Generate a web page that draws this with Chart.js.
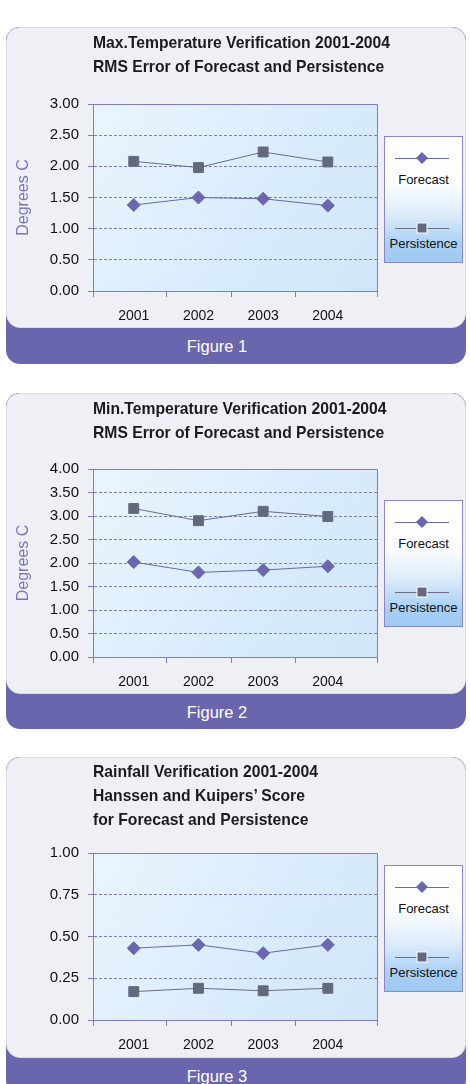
<!DOCTYPE html>
<html>
<head>
<meta charset="utf-8">
<script src="https://cdn.jsdelivr.net/npm/chart.js@4.4.1/dist/chart.umd.min.js"></script>
<style>
  body { margin: 0; background: #fff; font-family: "Liberation Sans", Arial, sans-serif; }
  .panel { position: absolute; left: 6px; width: 460px; background: #6a66ad; border-radius: 14px; overflow: hidden; }
  .inner { position: absolute; left: 0; top: 0; width: 458px; height: 299px; background: #efeff6; border: 1px solid #dcdce9; border-radius: 14px; }
  .panel canvas { position: absolute; left: 0; top: 0; }
  .title { position: absolute; left: 87px; top: 4px; font-weight: bold; font-size: 15.7px; line-height: 24px; color: #1b1b1b; white-space: nowrap; }
  .fig { position: absolute; left: 0; top: 300px; width: 422px; text-align: center; color: #fff; font-size: 16.5px; line-height: 38px; }
  .legend { position: absolute; left: 378px; width: 77px; height: 125px; border: 1px solid #8a87c6;
    background: linear-gradient(#ffffff 0%, #fbfdff 38%, #dcecfb 62%, #a9d0f5 85%, #9cc9f3 100%); }
  .legend .mk { position: absolute; left: 10px; }
  .legend .lb { position: absolute; left: 0; width: 77px; text-align: center; font-size: 13px; line-height: 16px; color: #111; }
</style>
</head>
<body>

<div class="panel" style="top:27px;height:337px">
  <div class="inner"></div>
  <canvas id="chart1" width="460" height="300"></canvas>
  <div class="title">Max.Temperature Verification 2001-2004<br>RMS Error of Forecast and Persistence</div>
  <div class="legend" id="legend1" style="top:109px"></div>
  <div class="fig">Figure 1</div>
</div>

<div class="panel" style="top:393px;height:336px">
  <div class="inner"></div>
  <canvas id="chart2" width="460" height="300"></canvas>
  <div class="title">Min.Temperature Verification 2001-2004<br>RMS Error of Forecast and Persistence</div>
  <div class="legend" id="legend2" style="top:107px"></div>
  <div class="fig">Figure 2</div>
</div>

<div class="panel" style="top:757px;height:337px">
  <div class="inner"></div>
  <canvas id="chart3" width="460" height="300"></canvas>
  <div class="title" style="top:3px">Rainfall Verification 2001-2004<br>Hanssen and Kuipers’ Score<br>for Forecast and Persistence</div>
  <div class="legend" id="legend3" style="top:108px"></div>
  <div class="fig">Figure 3</div>
</div>

<script>
// data
const years = [2001, 2002, 2003, 2004];
const seriesNames = ["Forecast", "Persistence"];

const maxTempForecast = [1.38, 1.50, 1.48, 1.37];
const maxTempPersistence = [2.08, 1.98, 2.23, 2.07];

const minTempForecast = [2.02, 1.80, 1.85, 1.93];
const minTempPersistence = [3.16, 2.90, 3.10, 2.99];

const rainForecast = [0.43, 0.45, 0.40, 0.45];
const rainPersistence = [0.17, 0.19, 0.175, 0.19];

const tempTicksMax = [0, 0.5, 1, 1.5, 2, 2.5, 3];
const tempTicksMin = [0, 0.5, 1, 1.5, 2, 2.5, 3, 3.5, 4];
const rainTicks = [0, 0.25, 0.5, 0.75, 1];

const axisColor = "#7f7cc0";
const forecastColor = "#6a66b0";
const persistColor = "#62697f";

// plot background, frame and the x tick marks between years
const plotFrame = {
  id: "plotFrame",
  beforeDraw(chart) {
    const { ctx, chartArea: a } = chart;
    const g = ctx.createLinearGradient(a.left, a.top, a.right, a.bottom);
    g.addColorStop(0, "#eaf5fe");
    g.addColorStop(0.5, "#dbedfc");
    g.addColorStop(1, "#d0e6f9");
    ctx.save();
    ctx.fillStyle = g;
    ctx.fillRect(a.left, a.top, a.right - a.left, a.bottom - a.top);
    ctx.restore();
  },
  afterDraw(chart) {
    const { ctx, chartArea: a } = chart;
    const x = chart.scales.x;
    ctx.save();
    ctx.strokeStyle = axisColor;
    ctx.lineWidth = 1;
    ctx.beginPath();
    ctx.moveTo(Math.round(a.left) + 0.5, Math.round(a.top) + 0.5);
    ctx.lineTo(Math.round(a.right) + 0.5, Math.round(a.top) + 0.5);
    ctx.lineTo(Math.round(a.right) + 0.5, Math.round(a.bottom) + 0.5);
    const marks = [a.left, a.right];
    years.slice(0, -1).forEach((y) => marks.push(x.getPixelForValue(y + 0.5)));
    marks.forEach((px) => {
      const p = Math.round(px) + 0.5;
      ctx.moveTo(p, Math.round(a.bottom));
      ctx.lineTo(p, Math.round(a.bottom) + 6);
    });
    ctx.stroke();
    ctx.restore();
  },
};

function buildLegend(el, datasets) {
  datasets.forEach((ds, i) => {
    const cy = i === 0 ? 21 : 91;
    const ty = i === 0 ? 35 : 99;
    let shape;
    if (ds.pointStyle === "rectRot") {
      shape = `<polygon points="27,1 33,7 27,13 21,7" fill="${ds.pointBackgroundColor}"/>`;
    } else {
      shape = `<rect x="22" y="2" width="10" height="10" fill="${ds.pointBackgroundColor}" stroke="#fff" stroke-width="1"/>`;
    }
    el.innerHTML +=
      `<svg class="mk" style="top:${cy - 7}px" width="54" height="14">` +
      `<line x1="0" y1="7.5" x2="54" y2="7.5" stroke="${ds.borderColor}" stroke-width="1"/>${shape}</svg>` +
      `<div class="lb" style="top:${ty}px">${ds.label}</div>`;
  });
}

function makeChart(id, legendId, forecast, persistence, yTicks, padTop, yTitle) {
  const datasets = [
    {
      label: seriesNames[0],
      data: years.map((y, i) => ({ x: y, y: forecast[i] })),
      borderColor: forecastColor,
      borderWidth: 1,
      pointStyle: "rectRot",
      pointRadius: 6.5,
      pointBackgroundColor: forecastColor,
      pointBorderColor: forecastColor,
    },
    {
      label: seriesNames[1],
      data: years.map((y, i) => ({ x: y, y: persistence[i] })),
      borderColor: "#6a6e82",
      borderWidth: 1,
      pointStyle: "rect",
      pointRadius: 7,
      pointBackgroundColor: persistColor,
      pointBorderColor: persistColor,
    },
  ];
  const yMax = yTicks[yTicks.length - 1];

  new Chart(document.getElementById(id), {
    type: "line",
    data: { datasets },
    options: {
      responsive: false,
      animation: false,
      layout: { padding: { left: 0, top: padTop, right: 89, bottom: 300 - 264 - 30 + (padTop > 80 ? 1 : 0) } },
      plugins: { legend: { display: false }, tooltip: { enabled: false } },
      scales: {
        x: {
          type: "linear",
          min: 2000.37,
          max: 2004.76,
          afterBuildTicks: (s) => { s.ticks = years.map((v) => ({ value: v })); },
          afterFit: (s) => { s.height = 30; },
          ticks: {
            callback: (v) => String(v),
            color: "#111",
            font: { family: "Liberation Sans", size: 14 },
            padding: 9,
            maxRotation: 0,
          },
          grid: { display: false },
          border: { display: true, color: axisColor, width: 1 },
        },
        y: {
          min: 0,
          max: yMax,
          afterBuildTicks: (s) => { s.ticks = yTicks.map((v) => ({ value: v })); },
          afterFit: (s) => { s.width = 87; },
          ticks: {
            callback: (v) => Number(v).toFixed(2),
            color: "#111",
            font: { family: "Liberation Sans", size: 15 },
            padding: 9,
          },
          grid: {
            color: (c) => (c.tick && c.tick.value > 0 && c.tick.value < yMax ? axisColor : "rgba(0,0,0,0)"),
            tickColor: axisColor,
            tickLength: 5,
            lineWidth: 1,
          },
          border: { display: true, color: axisColor, width: 1, dash: [3, 2] },
          title: {
            display: !!yTitle,
            text: yTitle || "",
            color: "#7a76bd",
            font: { family: "Liberation Sans", size: 16 },
            padding: { top: 8, bottom: 0 },
          },
        },
      },
    },
    plugins: [plotFrame],
  });

  buildLegend(document.getElementById(legendId), datasets);
}

makeChart("chart1", "legend1", maxTempForecast, maxTempPersistence, tempTicksMax, 77, "Degrees C");
makeChart("chart2", "legend2", minTempForecast, minTempPersistence, tempTicksMin, 76, "Degrees C");
makeChart("chart3", "legend3", rainForecast, rainPersistence, rainTicks, 96, null);
</script>
</body>
</html>
